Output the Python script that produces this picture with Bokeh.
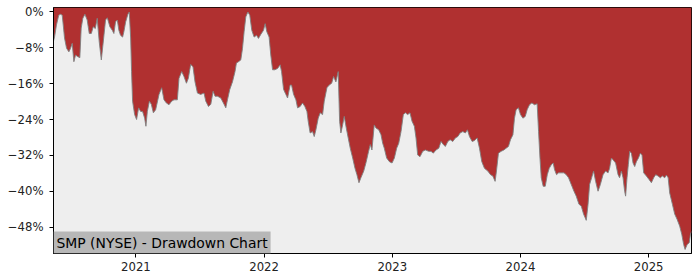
import numpy as np
from bokeh.plotting import figure
from bokeh.models import FixedTicker, CustomJSTickFormatter, Label, Range1d
from bokeh.embed import file_html
from bokeh.resources import INLINE

# decimal years
years = [
    2020.357, 2020.365, 2020.380, 2020.398, 2020.412, 2020.425, 2020.433, 2020.443, 2020.459, 2020.477,
    2020.490, 2020.503, 2020.516, 2020.529, 2020.542, 2020.5625, 2020.573, 2020.586, 2020.602, 2020.620,
    2020.636, 2020.652, 2020.667, 2020.683, 2020.698, 2020.714, 2020.730, 2020.745, 2020.763, 2020.777,
    2020.797, 2020.816, 2020.828, 2020.841, 2020.855, 2020.867, 2020.880, 2020.896, 2020.906, 2020.920,
    2020.9375, 2020.948, 2020.959, 2020.966, 2020.974, 2020.990, 2021.005, 2021.021, 2021.037, 2021.052,
    2021.068, 2021.078, 2021.089, 2021.105, 2021.120, 2021.136, 2021.154, 2021.180, 2021.201, 2021.219,
    2021.2375, 2021.258, 2021.279, 2021.297, 2021.323, 2021.336, 2021.357, 2021.375, 2021.394, 2021.409,
    2021.427, 2021.445, 2021.461, 2021.480, 2021.505, 2021.531, 2021.545, 2021.566, 2021.584, 2021.602,
    2021.617, 2021.636, 2021.662, 2021.6875, 2021.701, 2021.714, 2021.732, 2021.753, 2021.773, 2021.784,
    2021.800, 2021.818, 2021.831, 2021.844, 2021.857, 2021.873, 2021.888, 2021.904, 2021.922, 2021.941,
    2021.956, 2021.974, 2021.995, 2022.008, 2022.021, 2022.039, 2022.052, 2022.066, 2022.084, 2022.105,
    2022.125, 2022.136, 2022.152, 2022.170, 2022.183, 2022.203, 2022.214, 2022.230, 2022.248, 2022.261,
    2022.281, 2022.300, 2022.318, 2022.334, 2022.344, 2022.359, 2022.378, 2022.391, 2022.404, 2022.422,
    2022.4375, 2022.456, 2022.469, 2022.490, 2022.508, 2022.527, 2022.542, 2022.560, 2022.578, 2022.589,
    2022.599, 2022.6125, 2022.625, 2022.641, 2022.656, 2022.672, 2022.691, 2022.709, 2022.724, 2022.740,
    2022.755, 2022.777, 2022.795, 2022.815, 2022.828, 2022.841, 2022.859, 2022.873, 2022.894, 2022.912,
    2022.925, 2022.9375, 2022.956, 2022.977, 2022.998, 2023.016, 2023.034, 2023.050, 2023.068, 2023.086,
    2023.102, 2023.120, 2023.138, 2023.154, 2023.172, 2023.185, 2023.198, 2023.216, 2023.2375, 2023.258,
    2023.284, 2023.302, 2023.320, 2023.341, 2023.3625, 2023.380, 2023.398, 2023.414, 2023.433, 2023.451,
    2023.472, 2023.492, 2023.511, 2023.529, 2023.550, 2023.570, 2023.586, 2023.602, 2023.623, 2023.641,
    2023.662, 2023.680, 2023.698, 2023.719, 2023.745, 2023.766, 2023.784, 2023.802, 2023.8125, 2023.828,
    2023.849, 2023.870, 2023.888, 2023.906, 2023.922, 2023.941, 2023.953, 2023.966, 2023.984, 2024.000,
    2024.019, 2024.037, 2024.052, 2024.070, 2024.089, 2024.109, 2024.130, 2024.141, 2024.152, 2024.162,
    2024.177, 2024.193, 2024.209, 2024.224, 2024.240, 2024.255, 2024.266, 2024.281, 2024.297, 2024.318,
    2024.339, 2024.357, 2024.375, 2024.396, 2024.417, 2024.435, 2024.456, 2024.474, 2024.492, 2024.513,
    2024.527, 2024.539, 2024.555, 2024.570, 2024.586, 2024.605, 2024.623, 2024.644, 2024.664, 2024.683,
    2024.695, 2024.709, 2024.722, 2024.742, 2024.761, 2024.773, 2024.787, 2024.800, 2024.8125, 2024.820,
    2024.831, 2024.841, 2024.852, 2024.865, 2024.878, 2024.891, 2024.904, 2024.920, 2024.935, 2024.948,
    2024.961, 2024.982, 2025.003, 2025.021, 2025.039, 2025.055, 2025.073, 2025.091, 2025.107, 2025.125,
    2025.138, 2025.152, 2025.164, 2025.185, 2025.203, 2025.222, 2025.242, 2025.258, 2025.273, 2025.284,
    2025.300, 2025.316, 2025.326, 2025.334,
]

# drawdown in percent
drawdown = [
    -6.5, -5.6, -2.9, -0.7, -0.5, -0.7, -2.9, -5.8, -8.1, -8.9,
    -8.1, -7.0, -11.1, -9.6, -9.9, -10.2, -3.6, -1.4, -0.5, -1.8,
    -4.8, -4.8, -3.3, -3.7, -1.4, -6.7, -10.7, -6.7, -1.8, -1.3,
    -3.3, -4.1, -4.8, -2.2, -1.8, -4.1, -5.2, -5.6, -4.4, -2.2,
    -0.5, 0.0, -5.8, -13.3, -19.9, -22.9, -24.0, -21.4, -22.2, -22.2,
    -23.7, -25.5, -22.2, -19.9, -20.6, -22.5, -21.8, -18.4, -16.9, -19.6,
    -20.3, -20.7, -19.9, -19.6, -19.6, -14.8, -13.3, -14.4, -15.9, -14.8,
    -11.7, -12.2, -15.6, -18.1, -18.4, -18.1, -19.9, -21.1, -20.6, -17.7,
    -18.8, -18.8, -19.2, -20.6, -21.4, -19.6, -17.3, -15.6, -13.3, -11.4,
    -11.1, -10.7, -8.2, -4.4, -1.1, 0.0, -0.7, -4.1, -5.6, -5.2,
    -5.9, -5.0, -4.1, -2.6, -4.4, -5.6, -9.6, -12.9, -12.9, -12.6,
    -11.8, -13.3, -17.3, -18.4, -19.2, -16.3, -16.3, -18.4, -19.6, -21.4,
    -21.1, -20.3, -21.1, -22.2, -24.4, -27.0, -26.7, -27.8, -26.3, -23.7,
    -22.5, -22.9, -19.9, -16.9, -16.3, -15.9, -14.4, -15.6, -13.3, -24.4,
    -27.0, -25.2, -23.3, -25.9, -28.1, -30.4, -32.6, -34.9, -36.3, -38.1,
    -37.0, -35.5, -33.6, -31.1, -29.6, -30.8, -25.2, -25.9, -26.3, -27.4,
    -29.3, -30.4, -32.6, -33.4, -33.7, -32.6, -30.4, -29.3, -26.7, -22.9,
    -22.5, -22.9, -22.5, -24.4, -25.5, -28.1, -31.9, -32.3, -31.1, -30.8,
    -31.1, -31.1, -31.5, -30.8, -30.4, -28.9, -29.6, -30.0, -28.9, -28.5,
    -28.9, -28.1, -27.8, -27.0, -26.7, -27.0, -26.3, -27.8, -28.9, -28.7,
    -28.1, -30.4, -33.4, -34.9, -35.5, -36.3, -36.6, -37.8, -35.5, -31.5,
    -31.1, -30.8, -30.4, -30.0, -28.5, -27.4, -23.7, -21.8, -21.4, -22.9,
    -23.7, -23.3, -21.8, -20.7, -20.3, -20.7, -20.5, -26.7, -32.6, -37.0,
    -38.9, -38.9, -36.3, -34.9, -34.1, -33.7, -35.2, -36.3, -35.9, -35.9,
    -35.9, -36.3, -37.0, -38.5, -40.0, -41.1, -42.9, -43.3, -45.1, -46.5,
    -42.9, -38.5, -37.0, -35.5, -37.8, -40.0, -38.5, -36.3, -35.5, -35.9,
    -34.9, -32.6, -33.0, -33.7, -36.3, -37.0, -35.5, -37.0, -40.0, -41.1,
    -37.0, -34.1, -31.1, -31.5, -33.7, -34.5, -33.4, -32.6, -31.5, -31.9,
    -35.9, -36.6, -37.4, -38.1, -37.0, -36.3, -36.6, -37.0, -36.6, -37.0,
    -36.4, -37.0, -40.4, -42.9, -45.1, -46.3, -47.8, -49.6, -51.9, -53.0,
    -51.9, -51.5, -49.6, -49.0,
]

x_ticks = [2021, 2022, 2023, 2024, 2025]
y_ticks = [0, -8, -16, -24, -32, -40, -48]
title_text = "SMP (NYSE) - Drawdown Chart"

Y_TOP = 1.0
Y_BOTTOM = -53.9

p = figure(width=700, height=280, output_backend="svg", toolbar_location=None,
           x_range=Range1d(years[0], years[-1]), y_range=Range1d(Y_BOTTOM, Y_TOP),
           min_border_left=53, min_border_right=9, min_border_top=7, min_border_bottom=27)

p.background_fill_color = "#eeeeee"
p.border_fill_color = "white"
p.outline_line_color = "black"
p.outline_line_width = 1
p.xgrid.visible = False
p.ygrid.visible = False

top = [Y_TOP] * len(years)
p.varea(x=years, y1=drawdown, y2=top, fill_color="#b03030", fill_alpha=1.0)
p.line(x=years, y=drawdown, line_color="#7f7f7f", line_width=1, line_alpha=0.9)

for ax in (p.xaxis, p.yaxis):
    ax.axis_line_color = "black"
    ax.major_tick_line_color = "black"
    ax.major_tick_out = 4
    ax.major_tick_in = 0
    ax.minor_tick_line_color = None
    ax.major_label_text_font = "DejaVu Sans"
    ax.major_label_text_font_size = "11.7px"
    ax.major_label_text_color = "#222222"

p.xaxis.ticker = FixedTicker(ticks=x_ticks)
p.xaxis.formatter = CustomJSTickFormatter(code="return String(Math.round(tick));")
p.xaxis.major_label_standoff = 4
p.yaxis.ticker = FixedTicker(ticks=y_ticks)
p.yaxis.formatter = CustomJSTickFormatter(
    code="var v = Math.round(tick); return (v < 0 ? '\u2212' : '') + Math.abs(v) + '%';")
p.yaxis.major_label_standoff = 6

lbl = Label(x=0, y=0, x_units="screen", y_units="screen", text=title_text,
            text_font="DejaVu Sans", text_font_size="13.9px", text_color="black",
            background_fill_color="#b7b7b7", background_fill_alpha=1.0,
            padding=3, anchor="bottom_left", text_baseline="bottom")
p.add_layout(lbl)

open("out.html", "w").write(file_html(p, INLINE))
